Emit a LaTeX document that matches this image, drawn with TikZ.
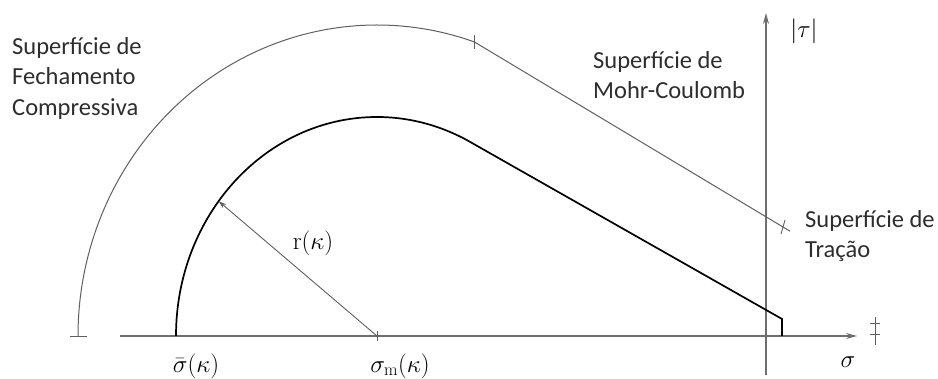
\documentclass[tikz,border=0pt]{standalone}
\usepackage{fontspec}
\usepackage{tikz}
\usetikzlibrary{positioning, arrows.meta, calc}
\newfontfamily\surffont{Carlito}
\definecolor{cAxis}{RGB}{110,110,110}
\definecolor{cOuter}{RGB}{95,95,95}
\definecolor{cText}{RGB}{45,45,45}
\tikzset{
  axisline/.style={line width=1.1pt, draw=cAxis, -{Stealth[length=11pt,width=6pt]}},
  outerline/.style={line width=1pt, draw=cOuter},
  innerline/.style={line width=1.7pt, draw=black},
  tickmark/.style={line width=0.9pt, draw=cOuter},
  surflabel/.style={font=\surffont\fontsize{24.5}{30.5}\selectfont, text=cText, align=left, anchor=north west, inner sep=0pt},
  mathlabel/.style={font=\fontsize{25}{30}\selectfont, inner sep=0pt}
}
\begin{document}
\begin{tikzpicture}[x=1pt, y=1pt]
    \useasboundingbox (0,0) rectangle (938,379);

    % Key points on the sigma axis
    \coordinate (cap) at (78,43);
    \coordinate (sbar) at (176,43);
    \coordinate (sm) at (377,43);
    \coordinate (rtip) at ($(sm)+(142:201 and 219)$);

    % Axes
    \coordinate (hstart) at (120,43);
    \coordinate (hend) at (857,43);
    \coordinate (vstart) at (766,4);
    \coordinate (vend) at (766,366);
    \draw[axisline] (hstart) -- (hend);
    \draw[axisline] (vstart) -- (vend);

    % Outer surface: compressive cap + Mohr-Coulomb line
    \draw[outerline] (cap) arc[start angle=180, end angle=71, x radius=299, y radius=311] coordinate (mc1)
        -- (783,152) coordinate (mc2) -- ++(7,-4.2);
    \draw[tickmark] ($(cap)+(-8,0)$) -- ($(cap)+(9,0)$);
    \draw[tickmark] ($(mc1)+(0,-7)$) -- ($(mc1)+(0,7)$);
    \draw[tickmark] ($(mc2)+(-2,-7)$) -- ($(mc2)+(2,7)$);

    % Inner surface (current yield surface)
    \draw[innerline] (sbar) arc[start angle=180, end angle=62, x radius=201, y radius=219]
        -- (782,60) -- (782,43);

    % Radius r(kappa)
    \draw[tickmark] ($(sm)+(0,-5)$) -- ($(sm)+(0,5)$);
    \draw[outerline, line width=0.9pt, -{Stealth[length=8pt,width=5pt]}] (sm) -- (rtip);

    % Mark on the sigma axis
    \draw[tickmark] (875,34) -- (875,62);
    \draw[tickmark] (870,56) -- (880,56);
    \draw[tickmark] (870,45) -- (880,45);

    % Labels
    \node[surflabel] (capLabel) at (12,342) {Superfície de\\Fechamento\\Compressiva};
    \node[surflabel] (mcLabel) at (593,328) {Superfície de\\Mohr-Coulomb};
    \node[surflabel] (tenLabel) at (805,169) {Superfície de\\Tração};
    \node[mathlabel] (sbarLabel) at (196,13) {$\bar{\sigma}(\kappa)$};
    \node[mathlabel] (smLabel) at (400,13) {$\sigma_{\mathrm{m}}(\kappa)$};
    \node[mathlabel] (rLabel) at (313,136) {$\mathrm{r}(\kappa)$};
    \node[mathlabel] (tauLabel) at (804,348) {$|\tau|$};
    \node[mathlabel] (sigLabel) at (848,17) {$\sigma$};
\end{tikzpicture}
\end{document}
